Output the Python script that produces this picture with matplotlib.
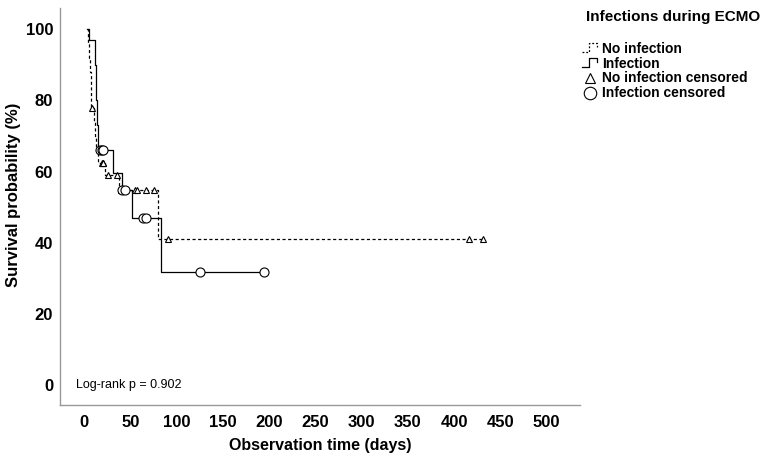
import matplotlib
matplotlib.use('Agg')
import matplotlib.pyplot as plt
from matplotlib.lines import Line2D
from matplotlib.legend_handler import HandlerBase

plt.rcParams['font.family'] = ['Liberation Sans', 'DejaVu Sans']

# infection group (solid)
inf_t = [3, 5, 12, 13, 14, 15, 31, 41, 52, 83, 195]
inf_s = [100, 97, 90, 80, 73, 66, 59.5, 54.8, 47, 31.7, 31.7]
inf_cens_t = [17, 19, 21, 41, 44, 64, 67, 125, 195]
inf_cens_s = [66, 66, 66, 54.8, 54.8, 47, 47, 31.7, 31.7]

# no infection group (dashed)
no_t = [3, 4, 5, 6, 7, 8, 11, 12, 13, 15, 23, 38, 80, 431]
no_s = [100, 96, 92, 88, 84, 78, 74, 70, 66, 62.4, 59, 54.8, 41.1, 41.1]
no_cens_t = [9, 19, 20, 21, 26, 36, 40, 55, 57, 67, 76, 91, 416, 431]
no_cens_s = [78, 62.4, 62.4, 62.4, 59, 59, 54.8, 54.8, 54.8, 54.8, 54.8, 41.1, 41.1, 41.1]

xticks = [0, 50, 100, 150, 200, 250, 300, 350, 400, 450, 500]
yticks = [0, 20, 40, 60, 80, 100]


class StepHandler(HandlerBase):
    def __init__(self, ls):
        super().__init__()
        self.ls = ls

    def create_artists(self, legend, orig_handle, xdescent, ydescent,
                       width, height, fontsize, trans):
        xs = [0, 0.45, 0.45, 0.95, 0.95]
        ys = [0.05, 0.05, 0.95, 0.95, 0.55]
        xs = [-xdescent + x * width for x in xs]
        ys = [-ydescent + y * height for y in ys]
        ln = Line2D(xs, ys, color='black', lw=0.9, linestyle=self.ls, transform=trans)
        return [ln]


fig = plt.figure(figsize=(7.64, 4.59), dpi=100)
ax = fig.add_axes([60/764, 54/459, 520/764, 397/459])

ax.step(no_t, no_s, where='post', color='black', lw=0.9, linestyle=(0, (2.5, 2)))
ax.step(inf_t, inf_s, where='post', color='black', lw=0.9)
ax.plot(no_cens_t, no_cens_s, '^', ms=5, mfc='white', mec='black', mew=0.8, ls='none')
ax.plot(inf_cens_t, inf_cens_s, 'o', ms=6.5, mfc='white', mec='black', mew=0.8, ls='none')

ax.set_xlim(-26, 536)
ax.set_ylim(-5.6, 106)
ax.set_xticks(xticks)
ax.set_yticks(yticks)
ax.tick_params(length=0, labelsize=12)
ax.tick_params(axis='y', pad=5)
ax.tick_params(axis='x', pad=7)
for lab in ax.get_xticklabels() + ax.get_yticklabels():
    lab.set_fontweight('bold')
for s in ['top', 'right']:
    ax.spines[s].set_visible(False)
for s in ['left', 'bottom']:
    ax.spines[s].set_color('#999999')
    ax.spines[s].set_linewidth(1.0)

ax.set_xlabel('Observation time (days)', fontsize=11.5, fontweight='bold', labelpad=6)
ax.set_ylabel('Survival probability (%)', fontsize=12, fontweight='bold')
ax.yaxis.set_label_coords(-0.075, 0.53)

ax.text(-9, 0, 'Log-rank p = 0.902', fontsize=9, va='center', ha='left')

fig.text(673/764, 1 - 17/459, 'Infections during ECMO', fontsize=11,
         fontweight='bold', ha='center', va='center')

h_no = Line2D([], [], color='black', linestyle='--')
h_inf = Line2D([], [], color='black')
h_tri = Line2D([], [], marker='^', ms=6.5, mfc='white', mec='black', mew=0.8, ls='none')
h_cir = Line2D([], [], marker='o', ms=9, mfc='white', mec='black', mew=0.8, ls='none')
leg = fig.legend([h_no, h_inf, h_tri, h_cir],
                 ['No infection', 'Infection', 'No infection censored', 'Infection censored'],
                 handler_map={h_no: StepHandler((0, (1.5, 1.5))), h_inf: StepHandler('-')},
                 loc='upper left', bbox_to_anchor=(576/764, 1 - 36/459),
                 frameon=False, fontsize=10, handlelength=1.2, handletextpad=0.3,
                 labelspacing=0.07, borderaxespad=0)
for t in leg.get_texts():
    t.set_fontweight('bold')

fig.savefig('out.png', dpi=100)
